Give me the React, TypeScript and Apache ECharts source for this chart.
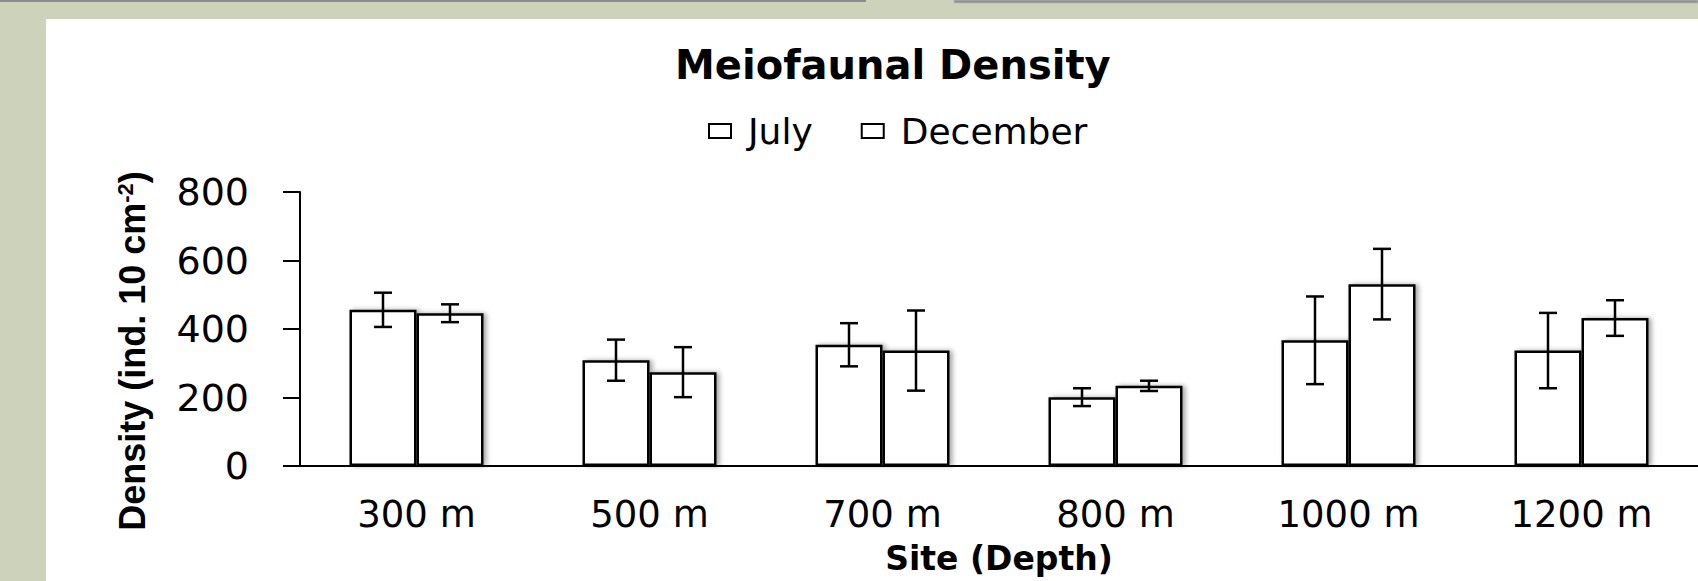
import React, { useEffect, useRef } from "react";
import * as echarts from "echarts";

const categories = ["300 m", "500 m", "700 m", "800 m", "1000 m", "1200 m"];
const seriesNames = ["July", "December"];
const julyMean = [456, 309, 354, 201, 367, 337];
const julyErr = [50, 60, 63, 26, 128, 110];
const decMean = [446, 274, 337, 234, 531, 432];
const decErr = [26, 73, 117, 15, 103, 52];
const yMin = 0;
const yMax = 800;
const yStep = 200;

const W = 1698;
const H = 581;
const BAR_W = 67;

export default function App() {
  const ref = useRef<HTMLDivElement>(null);

  useEffect(() => {
    document.body.style.margin = "0";
    document.body.style.overflow = "hidden";
    const chart = echarts.init(ref.current as HTMLDivElement, null, { renderer: "svg" });

    const errSeries = (name: string, mean: number[], err: number[], offset: number) => ({
      type: "custom",
      name,
      silent: true,
      z: 5,
      data: categories.map((_, i) => [i, mean[i] - err[i], mean[i] + err[i]]),
      encode: { x: 0, y: [1, 2] },
      renderItem: (params: any, api: any) => {
        const i = api.value(0);
        const lo = api.coord([i, api.value(1)]);
        const hi = api.coord([i, api.value(2)]);
        const x = lo[0] + offset;
        const cap = 9;
        const st = { stroke: "#000", lineWidth: 2.5 };
        return {
          type: "group",
          children: [
            { type: "line", shape: { x1: x, y1: lo[1], x2: x, y2: hi[1] }, style: st },
            { type: "line", shape: { x1: x - cap, y1: hi[1], x2: x + cap, y2: hi[1] }, style: st },
            { type: "line", shape: { x1: x - cap, y1: lo[1], x2: x + cap, y2: lo[1] }, style: st },
          ],
        };
      },
    });

    const barStyle = {
      color: "#ffffff",
      borderColor: "#000000",
      borderWidth: 2.5,
      shadowColor: "rgba(0,0,0,0.35)",
      shadowBlur: 5,
      shadowOffsetX: 3,
      shadowOffsetY: 0,
    };

    const option: any = {
      animation: false,
      backgroundColor: "#CDD2BA",
      graphic: [
        { type: "rect", z: -10, shape: { x: 46, y: 19, width: W - 46, height: H - 19 }, style: { fill: "#ffffff" } },
        { type: "rect", z: -10, shape: { x: 0, y: 0, width: 866, height: 2 }, style: { fill: "#8C8C8C" } },
        { type: "rect", z: -10, shape: { x: 954, y: 0, width: W - 954, height: 3 }, style: { fill: "#8C8C8C", stroke: "#B8B8B8", lineWidth: 1 } },
      ],
      title: {
        text: "Meiofaunal Density",
        left: 670,
        top: 40,
        textStyle: { fontFamily: "DejaVu Sans", fontWeight: "bold", fontSize: 40, color: "#000" },
      },
      legend: {
        data: seriesNames,
        left: 703,
        top: 108,
        icon: "rect",
        itemWidth: 22,
        itemHeight: 14,
        itemGap: 48,
        itemStyle: { color: "#fff", borderColor: "#000", borderWidth: 2, shadowBlur: 0, shadowOffsetX: 0 },
        textStyle: { fontFamily: "DejaVu Sans", fontSize: 36, color: "#000", padding: [0, 0, 0, 12] },
      },
      grid: { left: 300, right: -12, top: 192, bottom: 115, containLabel: false },
      xAxis: {
        type: "category",
        data: categories,
        axisLine: { show: true, lineStyle: { color: "#000", width: 2 } },
        axisTick: { show: false },
        axisLabel: { interval: 0, fontFamily: "DejaVu Sans", fontSize: 37, color: "#000", margin: 30 },
        name: "Site (Depth)",
        nameLocation: "middle",
        nameGap: 76,
        nameTextStyle: { fontFamily: "DejaVu Sans", fontWeight: "bold", fontSize: 33, color: "#000" },
      },
      yAxis: {
        type: "value",
        min: yMin,
        max: yMax,
        interval: yStep,
        splitLine: { show: false },
        axisLine: { show: true, lineStyle: { color: "#000", width: 2 } },
        axisTick: { show: true, length: 17, lineStyle: { color: "#000", width: 2 } },
        axisLabel: { fontFamily: "DejaVu Sans", fontSize: 38, color: "#000", margin: 51 },
        name: "{a|Density (ind. 10 cm}{s|-2}{a|)}",
        nameLocation: "middle",
        nameGap: 150,
        nameTextStyle: {
          padding: [0, 44, 0, 0],
          rich: {
            a: { fontFamily: "'Liberation Sans'", fontWeight: "bold", fontSize: 36, color: "#000" },
            s: { fontFamily: "'Liberation Sans'", fontWeight: "bold", fontSize: 22, color: "#000", verticalAlign: "top" },
          },
        },
      },
      series: [
        { type: "bar", name: seriesNames[0], data: julyMean, barWidth: BAR_W, barGap: "0%", itemStyle: barStyle, z: 2 },
        { type: "bar", name: seriesNames[1], data: decMean, barWidth: BAR_W, barGap: "0%", itemStyle: barStyle, z: 2 },
        errSeries("July error", julyMean, julyErr, -BAR_W / 2),
        errSeries("December error", decMean, decErr, BAR_W / 2),
      ],
    };

    chart.setOption(option);
    return () => chart.dispose();
  }, []);

  return <div ref={ref} style={{ width: W, height: H }} />;
}
